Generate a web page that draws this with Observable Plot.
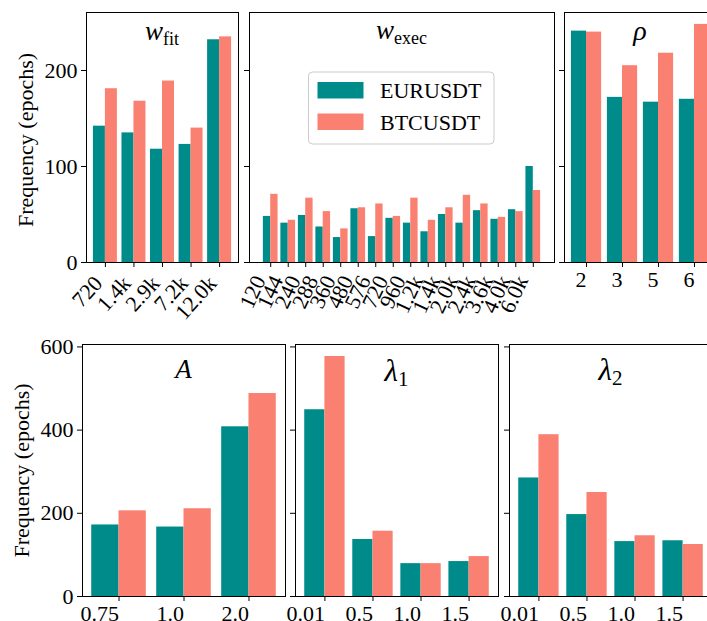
<!DOCTYPE html>
<html>
<head>
<meta charset="utf-8">
<script src="https://cdn.jsdelivr.net/npm/d3@7"></script>
<script src="https://cdn.jsdelivr.net/npm/@observablehq/plot@0.6"></script>
<style>
  html, body { margin: 0; padding: 0; background: #fff; }
  #fig { position: relative; width: 707px; height: 621px; overflow: hidden; background: #fff;
         font-family: "Liberation Serif", "DejaVu Serif", serif; }
  .panel { position: absolute; }
  .panel svg { max-width: none; }
  #overlay { position: absolute; left: 0; top: 0; pointer-events: none; }
</style>
</head>
<body>
<div id="fig"></div>
<script>
// ---------------- data ----------------
const series = ["EURUSDT", "BTCUSDT"];
const colors = ["#008b8b", "#fa8072"];

const wfitCats = ["720", "1.4k", "2.9k", "7.2k", "12.0k"];
const wfitEUR  = [142, 135, 118, 123, 232];
const wfitBTC  = [181, 168, 189, 140, 235];

const wexecCats = ["120", "144", "240", "288", "360", "480", "576", "720", "960",
                   "1.2k", "1.4k", "2.0k", "2.4k", "3.6k", "4.0k", "6.0k"];
const wexecEUR  = [48, 41, 49, 37, 26, 56, 27, 46, 41, 32, 50, 41, 54, 45, 55, 100];
const wexecBTC  = [71, 44, 67, 53, 35, 57, 61, 48, 67, 44, 57, 70, 61, 47, 53, 75];

const rhoCats = ["2", "3", "5", "6"];
const rhoEUR  = [241, 172, 167, 170];
const rhoBTC  = [240, 205, 218, 248];

const aCats = ["0.75", "1.0", "2.0"];
const aEUR  = [172, 167, 408];
const aBTC  = [206, 211, 488];

const l1Cats = ["0.01", "0.5", "1.0", "1.5"];
const l1EUR  = [449, 137, 79, 84];
const l1BTC  = [577, 157, 79, 96];

const l2Cats = ["0.01", "0.5", "1.0", "1.5"];
const l2EUR  = [285, 197, 132, 134];
const l2BTC  = [389, 250, 146, 125];

const topTicks = [0, 100, 200];
const bottomTicks = [0, 200, 400, 600];
const yLabel = "Frequency (epochs)";

// ---------------- layout ----------------
const FONT = "Liberation Serif, DejaVu Serif, serif";
const topMax = 1.05 * d3.max([...wfitEUR, ...wfitBTC, ...wexecEUR, ...wexecBTC, ...rhoEUR, ...rhoBTC]);
const botMax = 1.05 * d3.max([...aEUR, ...aBTC, ...l1EUR, ...l1BTC, ...l2EUR, ...l2BTC]);

const panels = [
  {cats: wfitCats, eur: wfitEUR, btc: wfitBTC, left: 86, top: 12, w: 152, h: 250, ymax: topMax, ticks: topTicks, showY: true,
   rot: -48, lsize: 22, ldx: -7, ldy: 17,
   title: "w", sub: "fit", tSize: 27, sSize: 18, tY: 40},
  {cats: wexecCats, eur: wexecEUR, btc: wexecBTC, left: 249, top: 12, w: 305, h: 250, ymax: topMax, ticks: topTicks, showY: false,
   rot: -65, lsize: 22, ldx: -11, ldy: 14.5,
   title: "w", sub: "exec", tSize: 27, sSize: 18, tY: 38.5},
  {cats: rhoCats, eur: rhoEUR, btc: rhoBTC, left: 564, top: 12, w: 152, h: 250, ymax: topMax, ticks: topTicks, showY: false,
   rot: 0, lsize: 22, ldx: 0, ldy: 8.5,
   title: "ρ", sub: "", tSize: 28, sSize: 18, tY: 40},
  {cats: aCats, eur: aEUR, btc: aBTC, left: 82, top: 344, w: 203, h: 252, ymax: botMax, ticks: bottomTicks, showY: true,
   rot: 0, lsize: 22, ldx: 0, ldy: 9,
   title: "A", sub: "", tSize: 27, sSize: 18, tY: 377.5},
  {cats: l1Cats, eur: l1EUR, btc: l1BTC, left: 295, top: 344, w: 203, h: 252, ymax: botMax, ticks: bottomTicks, showY: false,
   rot: 0, lsize: 22, ldx: 0, ldy: 8.5,
   title: "λ", sub: "1", tSize: 31, sSize: 21, tY: 381},
  {cats: l2Cats, eur: l2EUR, btc: l2BTC, left: 509, top: 344, w: 203, h: 252, ymax: botMax, ticks: bottomTicks, showY: false,
   rot: 0, lsize: 22, ldx: 0, ldy: 8.5,
   title: "λ", sub: "2", tSize: 31, sSize: 21, tY: 380}
];

const fig = d3.select("#fig");
const HALF = 0.42; // width of each bar in category units

for (const p of panels) {
  const n = p.cats.length;
  const m = 0.05 * (n - 1 + 2 * HALF);
  const rows = p.cats.flatMap((c, i) => [
    {cat: c, s: series[0], v: p.eur[i], x1: i - HALF, x2: i},
    {cat: c, s: series[1], v: p.btc[i], x1: i, x2: i + HALF}
  ]);
  const marks = [
    Plot.rect(rows, {x1: "x1", x2: "x2", y1: 0, y2: "v", fill: "s"}),
    Plot.frame({stroke: "#000", strokeWidth: 1}),
    Plot.axisY({ticks: p.ticks, tickSize: 5, tickPadding: 4, label: null, fontSize: 22,
                tickFormat: p.showY ? (d => String(d)) : (() => "")}),
    Plot.axisX({ticks: d3.range(n), tickSize: 5, label: null, tickFormat: () => ""}),
    Plot.text(p.cats, {x: (d, i) => i, frameAnchor: "bottom", rotate: p.rot,
      textAnchor: "end", lineAnchor: p.rot ? "middle" : "top", dx: p.ldx, dy: p.ldy,
      fontSize: p.lsize, fill: "#000"})
  ];
  const chart = Plot.plot({
    width: p.w, height: p.h, margin: 0,
    style: {overflow: "visible", background: "transparent", fontFamily: FONT, fontSize: "22px", color: "#000", maxWidth: "none"},
    x: {domain: [-HALF - m, n - 1 + HALF + m]},
    y: {domain: [0, p.ymax]},
    color: {domain: series, range: colors},
    marks
  });
  fig.append("div").attr("class", "panel")
    .style("left", p.left + "px").style("top", p.top + "px")
    .node().appendChild(chart);
}

// ---------------- overlay: titles, y labels, legend ----------------
const ov = fig.append("svg").attr("id", "overlay").attr("width", 707).attr("height", 621)
  .attr("font-family", FONT).attr("fill", "#000");

for (const p of panels) {
  const t = ov.append("text").attr("x", p.left + p.w / 2).attr("y", p.tY)
    .attr("text-anchor", "middle").attr("font-size", p.tSize);
  t.append("tspan").attr("font-style", "italic").text(p.title);
  if (p.sub) t.append("tspan").attr("font-size", p.sSize).attr("dy", 5).text(p.sub);
}

ov.append("text").attr("transform", "translate(33,140) rotate(-90)")
  .attr("text-anchor", "middle").attr("font-size", 22).text(yLabel);
ov.append("text").attr("transform", "translate(29.3,470.5) rotate(-90)")
  .attr("text-anchor", "middle").attr("font-size", 22).text(yLabel);

const lg = ov.append("g");
lg.append("rect").attr("x", 308.5).attr("y", 72).attr("width", 185.5).attr("height", 72)
  .attr("rx", 4).attr("fill", "#fff").attr("fill-opacity", 0.8).attr("stroke", "#cccccc");
series.forEach((s, i) => {
  lg.append("rect").attr("x", 317.5).attr("y", 82 + i * 31.5).attr("width", 46).attr("height", 16.5)
    .attr("fill", colors[i]);
  lg.append("text").attr("x", 380).attr("y", 97.8 + i * 32.3).attr("font-size", 22).text(s);
});
</script>
</body>
</html>
